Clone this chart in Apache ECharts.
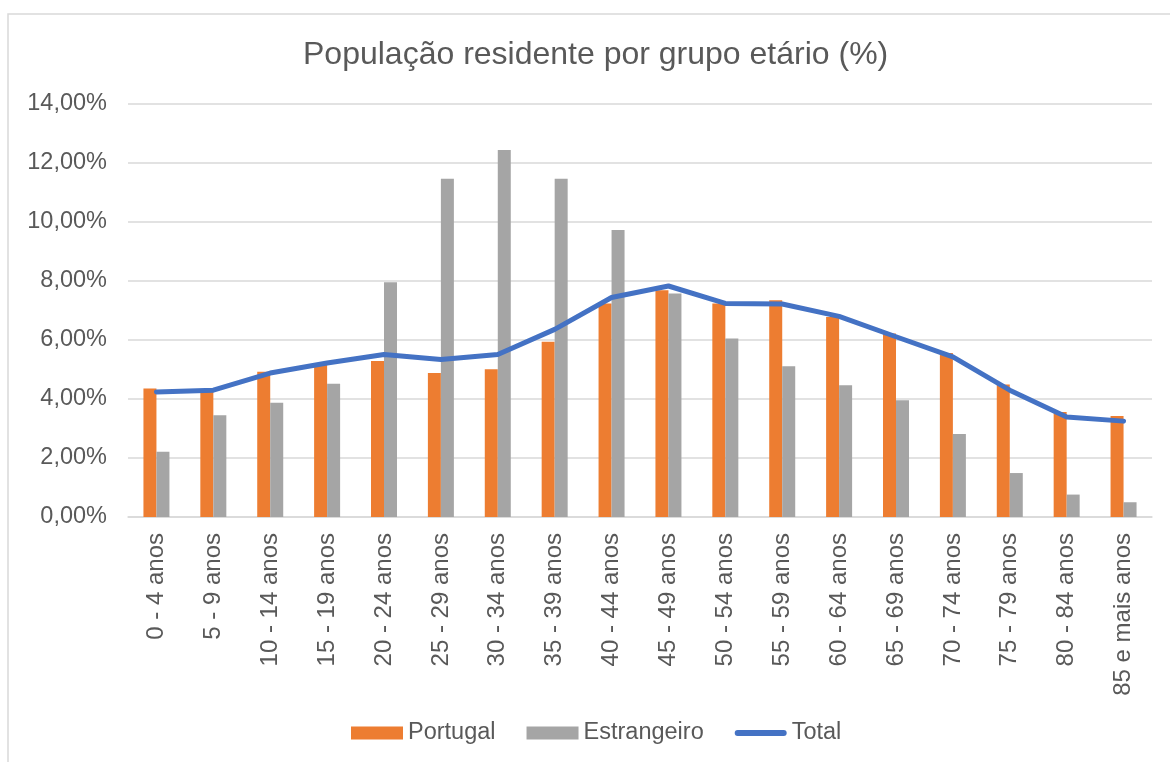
<!DOCTYPE html>
<html>
<head>
<meta charset="utf-8">
<script src="https://cdn.jsdelivr.net/npm/echarts@6/dist/echarts.min.js"></script>
<style>
  html, body { margin: 0; padding: 0; background: #fff; }
  #chart { width: 1170px; height: 762px; }
</style>
</head>
<body>
<div id="chart"></div>
<script>
// grupos etários
var categorias = ['0 - 4 anos', '5 - 9 anos', '10 - 14 anos', '15 - 19 anos', '20 - 24 anos',
    '25 - 29 anos', '30 - 34 anos', '35 - 39 anos', '40 - 44 anos', '45 - 49 anos',
    '50 - 54 anos', '55 - 59 anos', '60 - 64 anos', '65 - 69 anos', '70 - 74 anos',
    '75 - 79 anos', '80 - 84 anos', '85 e mais anos'];

// valores em %
var portugal = [4.36, 4.24, 4.92, 5.22, 5.29, 4.88, 5.01, 5.94, 7.24, 7.69,
    7.24, 7.35, 6.78, 6.22, 5.56, 4.49, 3.56, 3.42];
var estrangeiro = [2.21, 3.45, 3.87, 4.52, 7.96, 11.47, 12.44, 11.47, 9.73, 7.58,
    6.05, 5.11, 4.47, 3.96, 2.81, 1.49, 0.76, 0.50];
var total = [4.24, 4.30, 4.88, 5.22, 5.51, 5.34, 5.51, 6.36, 7.44, 7.83,
    7.24, 7.22, 6.80, 6.11, 5.43, 4.30, 3.39, 3.25];

// eixo y
var yMin = 0, yMax = 14, yStep = 2;

var cinza = '#595959';
var fonte = 'Liberation Sans, Arial, sans-serif';
// traço arredondado para a legenda da linha
var iconeLinha = 'path://M3,0 H49 A3,3 0 0 1 49,6 H3 A3,3 0 0 1 3,0 Z';

var chart = echarts.init(document.getElementById('chart'));
var option = {
    backgroundColor: '#fff',
    animation: false,
    graphic: [{
        type: 'rect',
        shape: { x: 8, y: 14, width: 1200, height: 800 },
        style: { fill: 'none', stroke: '#d9d9d9', lineWidth: 1.5 },
        silent: true
    }],
    title: {
        text: 'População residente por grupo etário (%)',
        left: 298,
        top: 34,
        textStyle: {
            color: cinza,
            fontFamily: fonte,
            fontSize: 32,
            fontWeight: 'normal'
        }
    },
    legend: {
        left: 346,
        top: 716,
        itemWidth: 52,
        itemHeight: 13,
        itemGap: 31,
        textStyle: {
            color: cinza,
            fontFamily: fonte,
            fontSize: 23.5
        },
        data: [
            { name: 'Portugal', icon: 'rect' },
            { name: 'Estrangeiro', icon: 'rect' },
            { name: 'Total', icon: iconeLinha }
        ]
    },
    grid: {
        left: 128,
        right: 18,
        top: 104,
        bottom: 245
    },
    xAxis: {
        type: 'category',
        data: categorias,
        axisTick: { show: false },
        axisLine: {
            lineStyle: { color: '#d9d9d9', width: 1.5 }
        },
        axisLabel: {
            rotate: 90,
            interval: 0,
            margin: 16,
            color: cinza,
            fontFamily: fonte,
            fontSize: 24
        }
    },
    yAxis: {
        type: 'value',
        min: yMin,
        max: yMax,
        interval: yStep,
        axisLine: { show: false },
        axisTick: { show: false },
        splitLine: {
            lineStyle: { color: '#d9d9d9', width: 1.5 }
        },
        axisLabel: {
            margin: 21,
            color: cinza,
            fontFamily: fonte,
            fontSize: 23.5,
            formatter: function (v) {
                return v.toFixed(2).replace('.', ',') + '%';
            }
        }
    },
    series: [{
        name: 'Portugal',
        type: 'bar',
        barWidth: 13,
        barGap: '0%',
        itemStyle: { color: '#ed7d31' },
        data: portugal
    }, {
        name: 'Estrangeiro',
        type: 'bar',
        barWidth: 13,
        barGap: '0%',
        itemStyle: { color: '#a5a5a5' },
        data: estrangeiro
    }, {
        name: 'Total',
        type: 'line',
        symbol: 'none',
        lineStyle: { color: '#4472c4', width: 5, cap: 'round', join: 'round' },
        itemStyle: { color: '#4472c4' },
        data: total
    }]
};
chart.setOption(option);
</script>
</body>
</html>
